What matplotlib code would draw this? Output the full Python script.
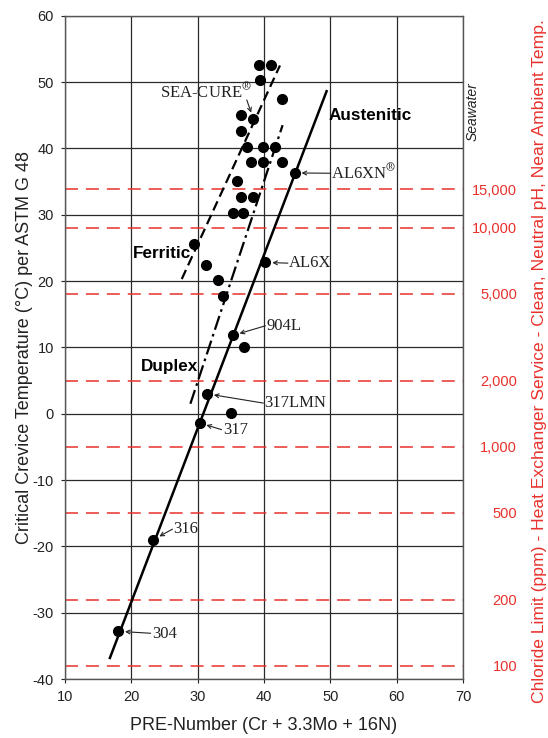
import numpy as np
import matplotlib
matplotlib.use('Agg')
import matplotlib.pyplot as plt
from matplotlib.ticker import FixedLocator, NullLocator

plt.rcParams['font.family'] = ['Liberation Sans', 'DejaVu Sans']
plt.rcParams['mathtext.fontset'] = 'stix'
plt.rcParams['axes.unicode_minus'] = False

# measured alloys: PRE number vs critical crevice temperature
pre = [39.3, 41.0, 39.4, 42.7, 36.5, 38.4, 36.5, 37.4, 39.8, 41.7,
       38.1, 39.8, 42.7, 44.6, 35.9, 36.6, 38.4, 35.3, 36.9, 29.4,
       31.3, 40.2, 33.0, 33.8, 35.3, 37.0, 31.4, 35.0, 30.3, 23.3, 18.0]
cct = [52.6, 52.5, 50.3, 47.4, 45.0, 44.4, 42.6, 40.2, 40.2, 40.2,
       37.9, 37.9, 37.9, 36.3, 35.1, 32.7, 32.7, 30.2, 30.2, 25.6,
       22.4, 22.8, 20.1, 17.7, 11.8, 10.1, 3.0, 0.15, -1.4, -19.0, -32.8]

# named alloys (index into pre/cct)
alloy_names = [r'SEA-CURE$^{\circledR}$', r'AL6XN$^{\circledR}$', 'AL6X',
               '904L', '317LMN', '317', '316', '304']
alloy_idx = [5, 13, 21, 24, 26, 28, 29, 30]

# trend lines
aust_pre, aust_cct = [16.7, 49.5], [-37.0, 48.8]
ferr_pre, ferr_cct = [27.6, 42.4], [20.3, 52.5]
dup_pre, dup_cct = [28.9, 42.8], [1.5, 43.5]

# chloride limits on the right axis
chloride = [100, 200, 500, 1000, 2000, 5000, 10000, 15000]


def cct_from_cl(cl):
    return -38 + 33 * (np.log10(cl) - 2)


def cl_from_cct(t):
    return 10 ** ((np.asarray(t) + 38) / 33 + 2)


fig = plt.figure(figsize=(5.48, 7.38), dpi=100)
ax = fig.add_axes([0.1186, 0.0799, 0.7264, 0.8988])

ax.set_xlim(10, 70)
ax.set_ylim(-40, 60)
ax.set_xticks(range(10, 71, 10))
ax.set_yticks(range(-40, 61, 10))
ax.grid(color='#2a2a2a', lw=0.9)
ax.set_axisbelow(True)
for s in ax.spines.values():
    s.set_color('#555555')
    s.set_linewidth(1.0)
ax.tick_params(labelsize=10.5, length=3, width=0.8, pad=5, colors='#222222')

red = '#e8312c'
for c in chloride:
    ax.axhline(cct_from_cl(c), color=red, lw=1.1, dashes=(8.5, 5.2), zorder=1.5)

# lines
ax.plot(aust_pre, aust_cct, color='black', lw=1.8, solid_capstyle='butt', zorder=3)
ax.plot(ferr_pre, ferr_cct, color='black', lw=1.6, dashes=(4.5, 2.3), zorder=3)
ax.plot(dup_pre, dup_cct, color='black', lw=1.6, dashes=(6.5, 2.0, 1.2, 2.0), zorder=3)

ax.plot(pre, cct, 'o', color='black', ms=7, zorder=4)

# annotations: (text x, text y, arrow tail x, arrow tail y, ha)
ann_pos = [(38.2, 48.5, 37.4, 47.3, 'right'),
           (50.1, 36.25, 50.0, 36.25, 'left'),
           (43.7, 22.7, 43.6, 22.7, 'left'),
           (40.4, 13.25, 40.2, 13.25, 'left'),
           (40.0, 1.6, 39.9, 1.6, 'left'),
           (33.8, -2.5, 33.6, -2.4, 'left'),
           (26.3, -17.4, 26.2, -17.4, 'left'),
           (23.1, -33.2, 22.9, -33.1, 'left')]
for name, i, (tx, ty, ax_, ay, ha) in zip(alloy_names, alloy_idx, ann_pos):
    ax.text(tx, ty, name, family='Liberation Serif', fontsize=12,
            ha=ha, va='center', color='#222222', zorder=5)
    ax.annotate('', xy=(pre[i], cct[i]), xytext=(ax_, ay),
                arrowprops=dict(arrowstyle='->', color='#222222', lw=0.8,
                                shrinkA=0, shrinkB=5, mutation_scale=7),
                zorder=5)

ax.text(49.7, 45.0, 'Austenitic', fontsize=12.3, fontweight='bold', va='center')
ax.text(20.3, 24.1, 'Ferritic', fontsize=12.3, fontweight='bold', va='center')
ax.text(21.5, 7.1, 'Duplex', fontsize=12.3, fontweight='bold', va='center')

ax.set_xlabel('PRE-Number (Cr + 3.3Mo + 16N)', fontsize=13, labelpad=9, color='#222222')
ax.set_ylabel('Critical Crevice Temperature (\u00b0C) per ASTM G 48', fontsize=13,
              labelpad=0, color='#222222')

ax.text(1.025, 45.5, 'Seawater', transform=ax.get_yaxis_transform(), rotation=90,
        style='italic', fontsize=10, ha='center', va='center', color='#222222')

sec = ax.secondary_yaxis('right', functions=(cl_from_cct, cct_from_cl))
sec.yaxis.set_major_locator(FixedLocator(chloride))
sec.yaxis.set_minor_locator(NullLocator())
sec.set_yticklabels([f'{c:,}' for c in chloride])
sec.tick_params(length=0, pad=39, labelsize=10.5, labelcolor=red)
for lab in sec.get_yticklabels():
    lab.set_horizontalalignment('right')
sec.spines['right'].set_visible(False)
sec.set_ylabel('Chloride Limit (ppm) - Heat Exchanger Service - Clean, Neutral pH, Near Ambient Temp.',
               color=red, fontsize=12.6)
sec.yaxis.set_label_coords(1.173, 0.479, transform=ax.transAxes)

fig.savefig('out.png', dpi=100)
